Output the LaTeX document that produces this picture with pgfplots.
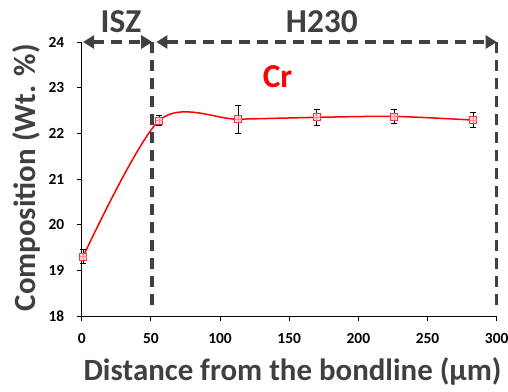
\documentclass[border=0pt]{standalone}
\usepackage{pgfplots}
\pgfplotsset{compat=1.18}
\usepackage{fontspec}
\setmainfont{Carlito}
\usetikzlibrary{arrows.meta}
\definecolor{dk}{HTML}{404040}
\begin{document}
\begin{tikzpicture}
\begin{axis}[
  scale only axis, width=415bp, height=274bp,
  at={(0,0)}, anchor=south west,
  xmin=0, xmax=300, ymin=18, ymax=24,
  xtick={0,50,...,300}, ytick={18,...,24},
  axis x line*=bottom, axis y line*=left,
  tick align=outside, major tick length=5bp,
  axis line style={black, line width=0.9bp}, tick style={black, line width=0.9bp},
  /pgf/number format/assume math mode=true,
  ticklabel style={font=\bfseries\fontsize{15.5}{15.5}\selectfont, text=black},
  xticklabel style={yshift=-9bp},
  yticklabel style={xshift=-9bp},
  xlabel={Distance from the bondline (µm)},
  ylabel={Composition (Wt. \%)},
  label style={font=\bfseries\fontsize{31}{31}\selectfont, text=dk},
  xlabel style={at={(axis description cs:0.508,-0.2336)}, anchor=base},
  ylabel style={at={(axis description cs:-0.1125,0.505)}, anchor=base},
  clip=false,
]
\addplot[red, line width=1.5bp, smooth, mark=none] coordinates {
 (1,19.3) (56,22.28) (113,22.31) (170,22.35) (226,22.37) (283,22.29)};
\addplot[draw=none, mark=square*, mark size=3.5bp, mark options={draw=red!80, fill=red!15, line width=0.8bp},
  error bars/.cd, y dir=both, y explicit, error bar style={black, line width=0.8bp},
  error mark options={rotate=90, mark size=3bp, black, line width=0.8bp}]
 coordinates {
 (1,19.3) +- (0,0.15)
 (56,22.28) +- (0,0.11)
 (113,22.31) +- (0,0.31)
 (170,22.35) +- (0,0.18)
 (226,22.37) +- (0,0.16)
 (283,22.29) +- (0,0.17)};
\addplot[draw=none, mark=+, mark size=3.5bp, mark options={draw=red!45, line width=0.8bp}]
 coordinates {(1,19.3) (56,22.28) (113,22.31) (170,22.35) (226,22.37) (283,22.29)};
\draw[dk, line width=3.5bp, dash pattern=on 11bp off 7bp] (axis cs:51,24) -- (axis cs:51,18.1);
\draw[dk, line width=3.5bp, dash pattern=on 11bp off 7bp] (axis cs:300,24) -- (axis cs:300,18.1);
\draw[dk, line width=3.5bp, dash pattern=on 11bp off 7bp, {Triangle[length=11bp,width=13bp]}-{Triangle[length=11bp,width=13bp]}] (axis cs:1,24) -- (axis cs:51,24);
\draw[dk, line width=3.5bp, dash pattern=on 11bp off 7bp, {Triangle[length=11bp,width=13bp]}-{Triangle[length=11bp,width=13bp]}] (axis cs:54,24) -- (axis cs:300,24);
\node[font=\bfseries\fontsize{33.5}{33.5}\selectfont, text=dk, anchor=base] at (axis cs:28.4,24.2) {ISZ};
\node[font=\bfseries\fontsize{33.5}{33.5}\selectfont, text=dk, anchor=base] at (axis cs:173.6,24.2) {H230};
\node[font=\bfseries\fontsize{33.5}{33.5}\selectfont, text=red, anchor=base] at (axis cs:141.6,23.01) {Cr};
\end{axis}
\pgfresetboundingbox
\path (-81.7bp,-76bp) rectangle (426.3bp,316bp);
\end{tikzpicture}
\end{document}
